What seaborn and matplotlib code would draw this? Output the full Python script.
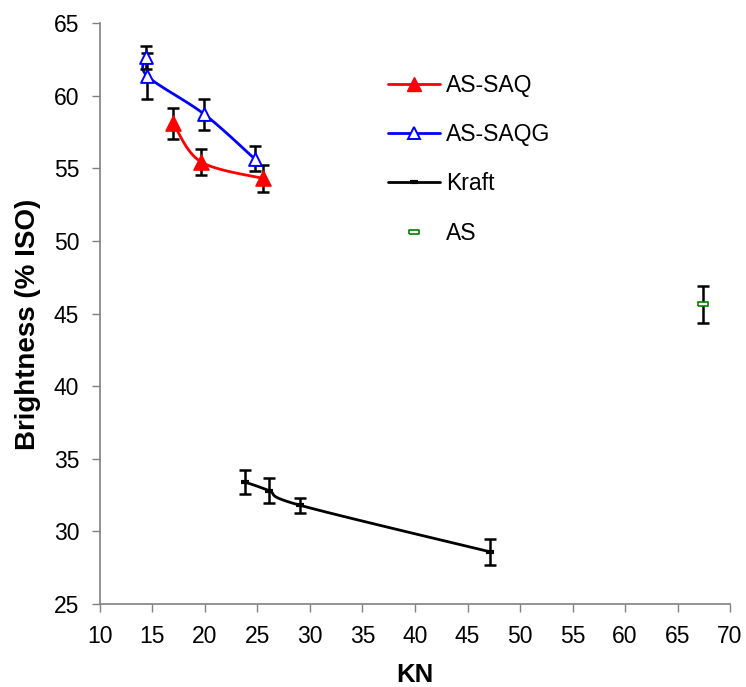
import numpy as np
import pandas as pd
import matplotlib
matplotlib.use("Agg")
import matplotlib.pyplot as plt
from matplotlib.lines import Line2D
import seaborn as sns

# Kappa number (KN) vs brightness for each pulp series
saq_kn = [16.98, 19.6, 25.5]
saq_brightness = [58.1, 55.45, 54.3]
saq_err = [1.07, 0.88, 0.95]

saqg_kn = [14.4, 14.5, 19.93, 24.73]
saqg_brightness = [62.63, 61.35, 58.72, 55.65]
saqg_err = [0.8, 1.58, 1.07, 0.86]

kraft_kn = [23.8, 26.1, 29.05, 47.1]
kraft_brightness = [33.4, 32.8, 31.8, 28.6]
kraft_err = [0.8, 0.88, 0.5, 0.88]

as_kn = [67.45]
as_brightness = [45.63]
as_err = [1.28]

x_ticks = list(range(10, 75, 5))
y_ticks = list(range(25, 70, 5))


def smooth_curve(xs, ys, n=40):
    """Bezier smoothing through every point (spreadsheet-style smoothed line)."""
    pts = np.column_stack([xs, ys]).astype(float)
    ext = np.vstack([pts[0], pts, pts[-1]])
    out = []
    t = np.linspace(0, 1, n)[:, None]
    for i in range(1, len(ext) - 2):
        p0, p1, p2, p3 = ext[i - 1], ext[i], ext[i + 1], ext[i + 2]
        c1 = p1 + (p2 - p0) / 6.0
        c2 = p2 - (p3 - p1) / 6.0
        seg = ((1 - t) ** 3) * p1 + 3 * ((1 - t) ** 2) * t * c1 + 3 * (1 - t) * t ** 2 * c2 + t ** 3 * p2
        out.append(seg if i == 1 else seg[1:])
    arr = np.vstack(out)
    return pd.DataFrame({"KN": arr[:, 0], "Brightness": arr[:, 1]})


sns.set_style("white")
plt.rcParams["font.family"] = ["Liberation Sans", "DejaVu Sans"]
plt.rcParams["text.color"] = "black"
plt.rcParams["axes.labelcolor"] = "black"

fig = plt.figure(figsize=(7.46, 6.87), dpi=100)
ax = fig.add_axes([0.134, 0.1208, 0.8446, 0.8457])

# smoothed connecting curves
for xs, ys, col in [(saq_kn, saq_brightness, "#ff0000"),
                    (saqg_kn, saqg_brightness, "#0000ff"),
                    (kraft_kn, kraft_brightness, "black")]:
    df = smooth_curve(xs, ys)
    sns.lineplot(data=df, x="KN", y="Brightness", sort=False, estimator=None,
                 color=col, linewidth=2.0, ax=ax, zorder=2)

# error bars
for xs, ys, es in [(saq_kn, saq_brightness, saq_err),
                   (saqg_kn, saqg_brightness, saqg_err),
                   (kraft_kn, kraft_brightness, kraft_err),
                   (as_kn, as_brightness, as_err)]:
    ax.errorbar(xs, ys, yerr=es, fmt="none", ecolor="black", elinewidth=1.8,
                capsize=4.6, capthick=1.8, zorder=3)

# markers
sns.scatterplot(x=saq_kn, y=saq_brightness, marker="^", s=120, color="#ff0000",
                edgecolor="#ff0000", linewidth=1, ax=ax, zorder=4)
sns.scatterplot(x=saqg_kn, y=saqg_brightness, marker="^", s=85, facecolor="white",
                edgecolor="#0000ff", linewidth=1.4, ax=ax, zorder=4)
ax.plot(kraft_kn, kraft_brightness, linestyle="none", marker="_", markersize=6,
        markeredgewidth=3, color="black", zorder=4)
rect = [(-1, -0.45), (1, -0.45), (1, 0.45), (-1, 0.45), (-1, -0.45)]
ax.plot(as_kn, as_brightness, linestyle="none", marker=rect, markersize=7,
        markerfacecolor="white", markeredgecolor="#008000", markeredgewidth=1.2,
        zorder=4)

ax.set_xlim(10, 70)
ax.set_ylim(25, 65)
ax.set_xticks(x_ticks)
ax.set_yticks(y_ticks)
ax.tick_params(axis="both", labelsize=16.5, direction="out", length=6, width=1,
               color="#808080", labelcolor="black", bottom=True, left=True, pad=9)
for side in ["top", "right"]:
    ax.spines[side].set_visible(False)
for side in ["left", "bottom"]:
    ax.spines[side].set_color("#808080")
    ax.spines[side].set_linewidth(1.2)

ax.set_xlabel("KN", fontsize=18.5, fontweight="bold", labelpad=11)
ax.set_ylabel("Brightness (% ISO)", fontsize=20, fontweight="bold", labelpad=7)
ax.yaxis.set_label_coords(-0.093, 0.482)

handles = [
    Line2D([], [], color="#ff0000", linewidth=2, marker="^", markersize=10,
           markerfacecolor="#ff0000", markeredgecolor="#ff0000"),
    Line2D([], [], color="#0000ff", linewidth=2, marker="^", markersize=8,
           markerfacecolor="white", markeredgecolor="#0000ff", markeredgewidth=1.4),
    Line2D([], [], color="black", linewidth=2, marker="_", markersize=6,
           markeredgewidth=3),
    Line2D([], [], linestyle="none", marker=rect, markersize=7,
           markerfacecolor="white", markeredgecolor="#008000", markeredgewidth=1.2),
]
labels = ["AS-SAQ", "AS-SAQG", "Kraft", "AS"]
fig.legend(handles, labels, loc="upper left", bbox_to_anchor=(0.492, 0.923),
           frameon=False, fontsize=16.5, handlelength=2.3, handletextpad=0.26,
           labelspacing=1.15)

fig.savefig("out.png", dpi=100, facecolor="white")
